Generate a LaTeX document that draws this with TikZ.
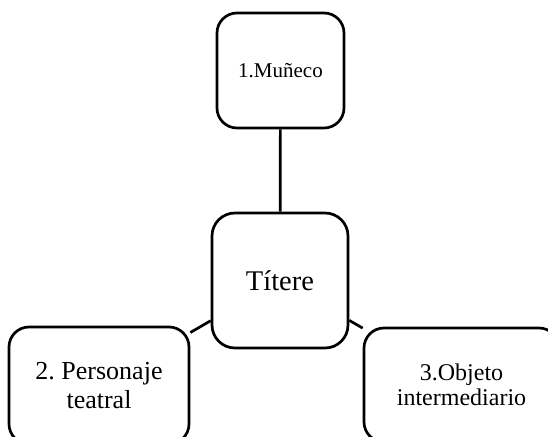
\documentclass[tikz,border=0pt]{standalone}
\usepackage{fontspec}
\setmainfont{Liberation Serif}
\frenchspacing
\tikzset{
  box/.style={draw=black, line width=2.7pt, rounded corners=20pt, fill=white,
    inner sep=0pt, align=center, anchor=center},
  link/.style={draw=black, line width=2.7pt}
}
\begin{document}
\begin{tikzpicture}[x=1pt,y=-1pt]
\path[use as bounding box, fill=white] (0,0) rectangle (548,436);
\clip (0,0) rectangle (548,436);
\node[box, minimum width=127pt, minimum height=115pt, font=\fontsize{21}{24}\selectfont] (m) at (280.5,70.5) {1.Muñeco};
\node[box, minimum width=136pt, minimum height=135pt, rounded corners=23pt, font=\fontsize{28.5}{32}\selectfont] (t) at (280,280.5) {Títere};
\node[box, minimum width=180pt, minimum height=117pt, font=\fontsize{26}{28.5}\selectfont] (p) at (99,385.5) {2. Personaje\\teatral};
\node[box, minimum width=195pt, minimum height=114pt, font=\fontsize{24}{25}\selectfont] (o) at (461.5,385) {3.Objeto\\intermediario};
\draw[link] (m) -- (t);
\draw[link] (t) -- (p);
\draw[link] (t) -- (o);
\end{tikzpicture}
\end{document}
